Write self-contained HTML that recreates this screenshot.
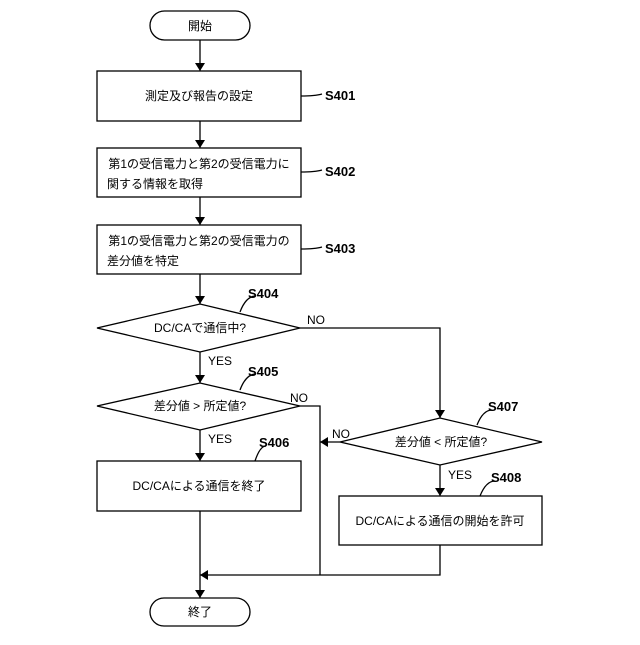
<!DOCTYPE html>
<html><head><meta charset="utf-8"><style>
body{margin:0;background:#fff}
text{font-family:"Liberation Sans","Noto Sans CJK JP",sans-serif;fill:#000}
.t{font-size:12px}
.s{font-size:13px;font-weight:bold}
.l{font-size:12px}
</style></head><body>
<svg width="640" height="640" xmlns="http://www.w3.org/2000/svg">
<defs><marker id="a" markerWidth="8" markerHeight="10" refX="8" refY="5" orient="auto" markerUnits="userSpaceOnUse"><path d="M0,0 L8,5 L0,10 z" fill="#000"/></marker></defs>
<g stroke="#000" stroke-width="1.3" fill="#fff">
<rect x="150" y="11" width="100" height="29" rx="14.5"/>
<rect x="97" y="71" width="204" height="50"/>
<rect x="97" y="148" width="204" height="49"/>
<rect x="97" y="225" width="204" height="49"/>
<polygon points="97,328 200,304 300,328 200,352"/>
<polygon points="97,406 200,383 300,406 200,430"/>
<polygon points="340,442 440,418 542,442 440,465"/>
<rect x="97" y="461" width="204" height="50"/>
<rect x="339" y="496" width="203" height="49"/>
<rect x="150" y="598" width="100" height="28" rx="14"/>
</g>
<g stroke="#000" stroke-width="1.3" fill="none">
<line x1="200" y1="40" x2="200" y2="71" marker-end="url(#a)"/>
<line x1="200" y1="121" x2="200" y2="148" marker-end="url(#a)"/>
<line x1="200" y1="197" x2="200" y2="225" marker-end="url(#a)"/>
<line x1="200" y1="274" x2="200" y2="304" marker-end="url(#a)"/>
<line x1="200" y1="352" x2="200" y2="383" marker-end="url(#a)"/>
<line x1="200" y1="430" x2="200" y2="461" marker-end="url(#a)"/>
<line x1="200" y1="511" x2="200" y2="598" marker-end="url(#a)"/>
<polyline points="300,328 440,328 440,418" marker-end="url(#a)"/>
<polyline points="300,406 320,406 320,575"/>
<line x1="340" y1="442" x2="320" y2="442" marker-end="url(#a)"/>
<line x1="440" y1="465" x2="440" y2="496" marker-end="url(#a)"/>
<polyline points="440,545 440,575 200,575" marker-end="url(#a)"/>
<path d="M240,312 Q246,296 256,296"/>
<path d="M240,390 Q246,374 256,374"/>
<path d="M255,461 Q260,446 266,446"/>
<path d="M477,425 Q483,410 492,410"/>
<path d="M480,496 Q486,481 495,481"/>
<path d="M301,96 Q315,96 322,94"/>
<path d="M301,172 Q315,172 322,170"/>
<path d="M301,249 Q315,249 322,247"/>
</g>
<text class="t" x="200" y="30" text-anchor="middle">開始</text>
<text class="t" x="199" y="100" text-anchor="middle">測定及び報告の設定</text>
<text class="t" x="199" y="168" text-anchor="middle">第1の受信電力と第2の受信電力に</text>
<text class="t" x="107" y="188">関する情報を取得</text>
<text class="t" x="199" y="245" text-anchor="middle">第1の受信電力と第2の受信電力の</text>
<text class="t" x="107" y="265">差分値を特定</text>
<text class="t" x="200" y="332" text-anchor="middle">DC/CAで通信中?</text>
<text class="t" x="200" y="410" text-anchor="middle">差分値 &gt; 所定値?</text>
<text class="t" x="441" y="446" text-anchor="middle">差分値 &lt; 所定値?</text>
<text class="t" x="199" y="490" text-anchor="middle">DC/CAによる通信を終了</text>
<text class="t" x="440" y="525" text-anchor="middle">DC/CAによる通信の開始を許可</text>
<text class="t" x="200" y="616" text-anchor="middle">終了</text>
<text class="s" x="325" y="100">S401</text>
<text class="s" x="325" y="176">S402</text>
<text class="s" x="325" y="253">S403</text>
<text class="s" x="248" y="298">S404</text>
<text class="s" x="248" y="376">S405</text>
<text class="s" x="259" y="447">S406</text>
<text class="s" x="488" y="411">S407</text>
<text class="s" x="491" y="482">S408</text>
<text class="l" x="307" y="324">NO</text>
<text class="l" x="290" y="402">NO</text>
<text class="l" x="332" y="438">NO</text>
<text class="l" x="208" y="365">YES</text>
<text class="l" x="208" y="443">YES</text>
<text class="l" x="448" y="479">YES</text>
</svg>
</body></html>
